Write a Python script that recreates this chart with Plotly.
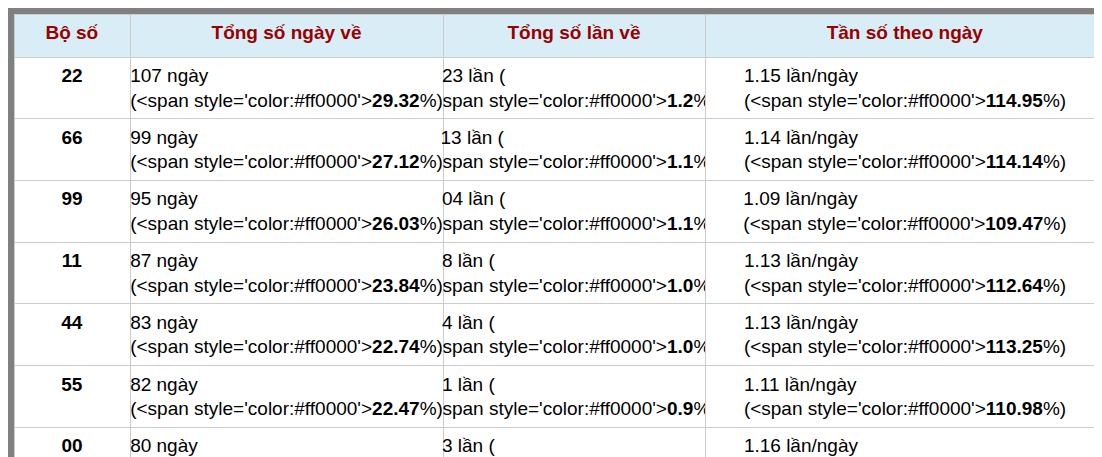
import plotly.graph_objects as go

headers = ["Bộ số", "Tổng số ngày về", "Tổng số lần về", "Tần số theo ngày"]
bo_so = ["22", "66", "99", "11", "44", "55", "00", "77", "33", "88"]
so_ngay = [107, 99, 95, 87, 83, 82, 80, 80, 77, 69]
pct_ngay = ["29.32", "27.12", "26.03", "23.84", "22.74", "22.47", "21.92", "21.92", "21.10", "18.90"]
so_lan = [123, 113, 104, 98, 94, 91, 93, 92, 88, 75]
pct_lan = ["1.2", "1.1", "1.1", "1.0", "1.0", "0.9", "0.9", "0.9", "0.9", "0.8"]
tan_so = ["1.15", "1.14", "1.09", "1.13", "1.13", "1.11", "1.16", "1.15", "1.14", "1.09"]
pct_ts = ["114.95", "114.14", "109.47", "112.64", "113.25", "110.98", "116.25", "115.00", "114.29", "108.70"]

RED = "<span\tstyle='color:#ff0000'><b>%s</b></span>"
col1 = ["<b>%s</b>" % b for b in bo_so]
col2 = ["%d ngày (%s%%)" % (n, RED % p) for n, p in zip(so_ngay, pct_ngay)]
col3 = ["%d lần ( %s%%)" % (n, RED % p) for n, p in zip(so_lan, pct_lan)]
col4 = ["%s lần/ngày (%s%%)" % (t, RED % p) for t, p in zip(tan_so, pct_ts)]

fig = go.Figure(go.Table(
    columnwidth=[116, 313, 262, 400],
    header=dict(values=["<b>%s</b>" % h for h in headers],
                fill_color="#d9edf7", line_color="#cccccc",
                font=dict(family="Liberation Sans, Arial", size=19, color="#990000"),
                align="center", height=43),
    cells=dict(values=[col1, col2, col3, col4],
               fill_color="white", line_color="#cccccc",
               font=dict(family="Liberation Sans, Arial", size=19, color="black"),
               align="center", height=40),
))
fig.update_layout(width=1102, height=457, margin=dict(l=6, r=5, t=6, b=7),
                  paper_bgcolor="#808080", plot_bgcolor="#808080")
fig.write_html("out.html")
